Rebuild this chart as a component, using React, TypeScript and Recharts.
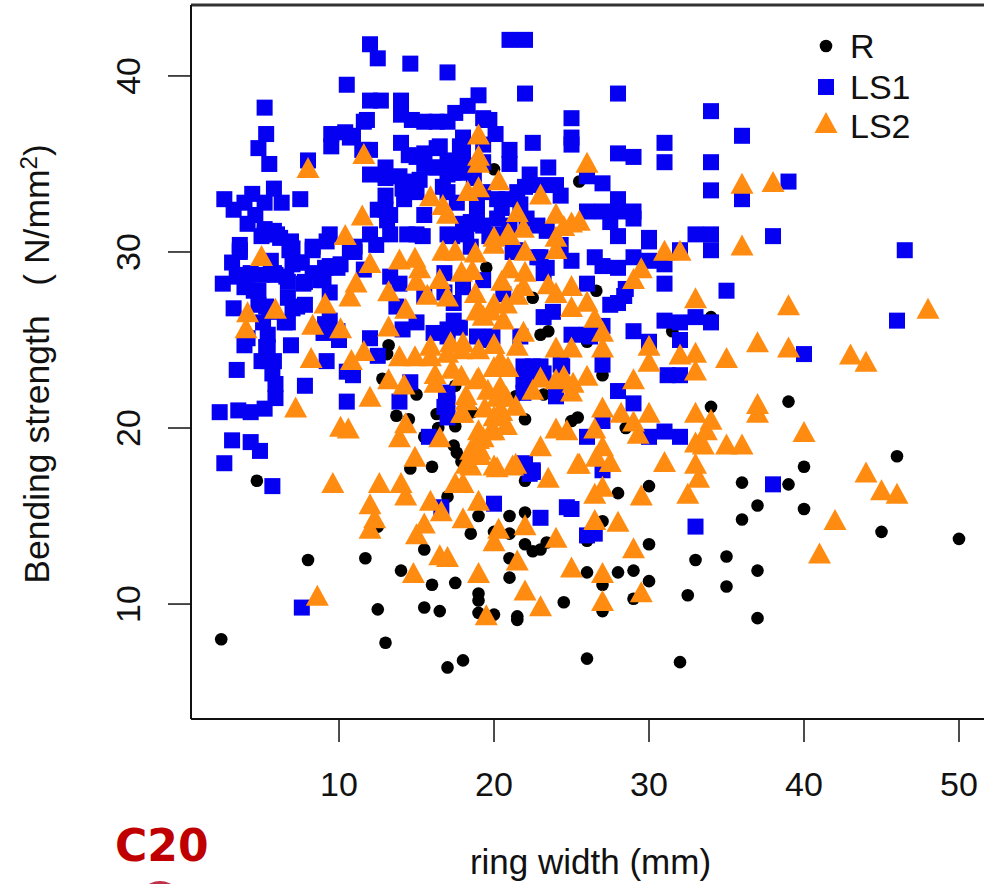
import { ScatterChart, Scatter, XAxis, YAxis, Legend, Label, ReferenceLine } from "recharts";

const xTicks = [10, 20, 30, 40, 50];
const yTicks = [10, 20, 30, 40];
const xDomain = [0.45, 52];
const yDomain = [3.47, 44.03];

const BLACK = "#000000";
const BLUE = "#0600f2";
const ORANGE = "#ff8c10";
const FONT = "Liberation Sans, Arial, sans-serif";

// [ring width, bending strength]
const rPoints = [
  [4.7, 17], [8, 12.5], [11.7, 12.6], [14, 11.9], [15.5, 13.1], [16, 11.1], [17.5, 11.2], [12.5, 9.7],
  [15.5, 9.8], [16.5, 9.6], [2.4, 8], [13, 7.8], [17, 6.4], [18, 6.8], [19, 10.6], [19, 10.2],
  [19, 9.5], [20, 9.4], [21.5, 9.3], [21.5, 9.1], [24.5, 10.1], [26, 6.9], [21, 11.5], [21, 12.6],
  [22, 13.4], [22.5, 13], [23, 13.1], [23.4, 13.5], [26, 13.6], [26, 11.8], [22, 17], [19, 15],
  [21, 15], [22, 15.2], [18.5, 14], [20, 14.1], [21, 14], [17, 16.1], [12.5, 14.4], [14.6, 17.7],
  [16, 17.8], [28, 16.3], [30, 16.7], [36, 16.9], [39, 16.8], [40, 17.8], [37, 15.6], [36, 14.8],
  [40, 15.4], [27, 14.7], [30, 13.4], [45, 14.1], [50, 13.7], [33, 12.5], [35, 12.7], [37, 11.9],
  [28, 11.8], [29, 11.9], [27, 11.1], [30, 11.3], [35, 11], [32.5, 10.5], [29, 10.3], [27, 9.6],
  [37, 9.2], [32, 6.7], [34, 21.2], [39, 21.5], [22, 20.5], [25.4, 20.6], [25, 20.4], [28.5, 20],
  [27, 23], [23, 25.3], [23.5, 25.5], [26, 24.9], [26.6, 27.8], [22.5, 27.4], [34, 26.3], [31.5, 25.5],
  [23.2, 21.9], [13.2, 24.7], [13.1, 24.2], [12.8, 22.8], [15, 21.9], [13.7, 20.7], [14.5, 20.5],
  [16.3, 20.8], [17.5, 20.1], [16.4, 20], [15.5, 19.5], [17.4, 19], [17.6, 18.6], [17.9, 18.1],
  [17.5, 22.4], [19.5, 29.1], [17.5, 25.8], [20, 34.7], [25.5, 34], [46, 18.4], [21.4, 21.8], [18.6, 20.9],
];

const ls1Points = [
  [12, 41.8], [12.5, 41], [14.6, 40.7], [17, 40.2], [10.5, 39.5], [19, 38.9], [18.3, 38.3], [12, 38.6],
  [12.7, 38.6], [14, 38.6], [14, 37.8], [17.5, 37.9], [5.2, 38.2], [5.3, 36.7], [4.8, 35.9], [5.5, 35],
  [8, 35.2], [19.4, 37.5], [11.8, 37.5], [11.6, 37.4], [14.7, 37.5], [15.5, 37.4], [16.3, 37.4], [17, 37.4],
  [9.5, 36.7], [9.5, 36], [10.4, 36.8], [10.9, 36.6], [11.5, 35.8], [12, 35.8], [14, 36.2], [14.5, 35.5],
  [15.5, 35.6], [16.5, 36], [15.5, 35], [16.1, 34.8], [17, 35.1], [18, 35.9], [18, 36.5], [13, 34.8],
  [12, 34.4], [13, 34.2], [13.9, 34.3], [14.7, 34], [13, 33.2], [13, 32.4], [14.2, 33], [15, 33.4],
  [13.1, 31.8], [15.5, 32.1], [2.6, 33], [7.5, 33], [5.8, 33.6], [4.4, 33.3], [3.9, 32.8], [3.2, 32.4],
  [6.3, 32.8], [5.2, 32.8], [4.6, 32.1], [4.1, 31.6], [5.2, 31.3], [5.8, 31.2], [5, 30.9], [6.2, 30.8],
  [6.9, 30.6], [9.4, 31], [8.3, 30.3], [3.6, 30.4], [12, 31], [13.3, 31], [14.4, 31], [15, 31],
  [17, 31], [18.2, 31], [18.5, 31.7], [18.9, 32.5], [19.3, 31.5], [17, 34.4], [17, 33.4], [18.2, 34.9],
  [18.7, 34.2], [19.3, 35.1], [19.3, 33.4], [19.3, 37.6], [19.3, 36.1], [21, 42.05], [22, 42.05], [22, 39],
  [28, 39], [34, 38], [25, 37.6], [25, 36.5], [25, 36.1], [22.5, 36.2], [21, 35.8], [21, 35],
  [20.1, 36.7], [19.7, 37.5], [36, 36.6], [31, 36.2], [31, 35.1], [34, 35.1], [28, 35.6], [29, 35.4],
  [34, 33.5], [36, 33], [39, 34], [23.5, 34.8], [22.3, 34.4], [22, 33.7], [23, 33.8], [24, 33.8],
  [24.3, 33.2], [26, 34.3], [27, 33.9], [28, 33], [26, 32.3], [27, 32.3], [28, 32.3], [29, 32.3],
  [29, 31.9], [27.5, 31.7], [28, 30.9], [30, 30.8], [33, 31], [34, 31], [38, 30.9], [20.2, 33],
  [20.8, 33], [21.5, 33.4], [20.5, 32.5], [21.7, 32.7], [20.2, 31.9], [22.1, 31.9], [22.8, 31.5], [23.4, 31.2],
  [21, 31.5], [20, 31], [24.3, 30.4], [3.1, 29.4], [2.5, 28.2], [3.6, 30.1], [8.3, 30.1], [3.2, 26.8],
  [3.9, 24.7], [6.9, 24.7], [3.4, 28.6], [4.3, 28.8], [4.5, 27.8], [5.6, 29.5], [5.8, 28.8], [6.8, 30.1],
  [6.6, 28.6], [7.5, 29.4], [7.7, 28.2], [7.3, 26.9], [6.7, 26], [8.3, 28.8], [9.4, 29.2], [9, 28.4],
  [10.1, 29.3], [5.3, 26.9], [5.1, 26], [5.3, 24.6], [5.4, 23.8], [5, 23.8], [5.8, 23.8], [5.7, 23.1],
  [5.9, 22.5], [5.9, 21.7], [5.2, 21.1], [4.3, 20.9], [3.5, 21], [2.3, 20.9], [3.4, 23.3], [7.8, 22.4],
  [10.5, 21.5], [13.9, 21.5], [9.2, 23.8], [12, 25.1], [12.5, 24.1], [10.5, 23.2], [10.9, 23], [9.1, 25.9],
  [9, 25.4], [10, 25], [3.1, 19.3], [4.3, 19.2], [4.9, 18.7], [2.6, 18], [5.7, 16.7], [17, 21.4],
  [17, 20.6], [17, 22], [15.8, 19.5], [14.6, 22.6], [13.7, 26.9], [14.1, 25.6], [15, 26], [16.1, 25.4],
  [17, 25.2], [13.3, 28.6], [11.6, 29], [10.7, 30.1], [13.9, 28.2], [15.5, 27.5], [17.4, 27.1], [18.5, 30.3],
  [12.4, 30.4], [9.2, 30.6], [18.9, 25.2], [19.3, 25], [35, 27.8], [31, 28.2], [29, 25.5], [31, 26.1],
  [32, 26], [33, 26.3], [34, 26], [32, 25], [30, 24.9], [31.2, 23], [32, 23], [27, 23.6],
  [28, 22.1], [29, 21.4], [31, 19.8], [32, 19.5], [26, 19.5], [30, 19.5], [27, 20.4], [26.5, 29.7],
  [27, 29.2], [28, 29.1], [29, 29.7], [30, 29.5], [31, 29.3], [32, 30.1], [34, 30.1], [25, 29.5],
  [26, 28.2], [28.5, 27.9], [28.4, 27.5], [27.5, 27], [28, 27.1], [25, 25.3], [26, 25.3], [27, 25.8],
  [26.2, 25.2], [23.2, 26.3], [23.8, 26.6], [22.5, 23.5], [21.9, 23.5], [23, 23.5], [24.4, 23.5], [21.9, 22.7],
  [21.9, 22], [24, 21.8], [22, 18], [22.5, 17.6], [30, 30.6], [21.4, 30.1], [23, 29.7], [46, 26.1],
  [46.5, 30.1], [38, 16.8], [40, 24.2], [33, 14.4], [7.6, 9.8], [20, 15.7], [23, 14.9], [24.7, 15.5],
  [25, 15.4], [16.6, 15.5], [22.5, 17.5], [26, 13.9], [26.5, 14], [27, 17.6],
  [19.7, 30.9], [21.2, 30], [22.8, 29.7], [23.4, 29.1], [23.2, 28.8], [19.3, 28.4], [18, 28], [16.8, 28.8],
  [17.4, 26.1], [17.8, 25.7], [17, 25.6], [16.8, 27.7], [20.6, 27.6], [21.7, 25.2], [19.9, 25.2], [18.2, 31.1],
  [22.2, 22.9], [23.2, 23.1], [16.8, 21.2], [16.9, 22], [24.3, 23.6], [22.3, 17.4], [3.6, 30], [5.2, 31],
  [6, 31], [7, 30.2], [7, 29.3], [7.6, 29.4], [4.1, 28.7], [5, 28.7], [5.9, 28.7], [6.7, 28.3],
  [7.8, 28.3], [8.8, 28.4], [9.9, 29.1], [9.1, 29.1], [11, 30], [3.9, 28], [4.8, 27.8], [4.8, 27],
  [5.5, 26.6], [6.7, 27.4], [7, 26.8], [6.5, 26], [7.8, 27], [9.4, 27.7], [5.4, 25.3], [5.4, 24.6],
  [4.1, 25.1], [9.9, 25.5], [9.4, 26.1], [14.1, 33.6], [15.2, 34.1], [15, 35.4], [16.3, 35.9], [17.2, 35.2],
  [17.4, 34.5], [16.3, 34.8], [18, 34.5], [16.7, 33.7], [17.6, 32.8], [15.4, 30.9], [11, 30.3], [10.7, 36.5],
  [18, 31.6], [18.9, 31.6], [17.8, 36], [18, 35], [17.3, 30.9], [13.3, 32.1], [12.5, 32.4],
];

const ls2Points = [
  [44, 17.3], [45, 16.3], [46, 16.1], [42, 14.6], [41, 12.7], [26.5, 16.1], [27, 16.5], [29.5, 16],
  [33.2, 17], [32.5, 16.1], [26.5, 14.6], [28, 14.5], [29, 13], [27, 11.6], [29.5, 10.5], [27, 10],
  [9.6, 16.7], [12.6, 16.7], [14, 16.7], [14.3, 16], [12, 15.5], [12.3, 14.7], [12, 14.1], [15.5, 14.4],
  [15, 13.8], [15.9, 15.7], [16.6, 15.1], [17.5, 16.7], [18, 16.7], [19, 15.7], [18, 14.7], [23.5, 17],
  [16.5, 12.6], [17, 12.5], [20.3, 14.1], [20, 13.4], [22, 14.3], [24, 13.6], [21.5, 12.3], [19, 11.6],
  [14.8, 11.6], [25, 11.9], [22, 10.6], [8.6, 10.3], [23, 9.7], [19.5, 9.2], [18.5, 17.7], [20, 17.7],
  [21.4, 17.8], [25.4, 17.8], [36, 30.2], [31, 29.9], [32, 29.9], [29.5, 28.9], [29, 28.3], [33, 27.2],
  [39, 26.8], [37, 24.7], [39, 24.4], [35, 23.8], [33, 24.1], [32, 24], [33, 23.1], [30, 24.5],
  [30, 23.6], [29, 22.6], [27, 25.3], [27, 24.4], [26.5, 26.1], [26, 27], [25, 27.9], [25, 26.7],
  [25, 24.4], [24, 24.4], [24, 27.5], [23.5, 28], [21.9, 25.3], [21.5, 24.5], [26, 22.8], [24.5, 22.8],
  [23, 22.7], [22.5, 22], [25.1, 22.4], [25, 21.9], [24, 22.6], [27, 21], [28.2, 20.7], [29, 20.2],
  [30, 20.7], [29.3, 19.5], [33, 20.7], [34, 20.3], [33.7, 19.7], [33.5, 18.9], [35, 18.9], [36, 18.9],
  [33, 19], [37, 21.2], [37, 20.7], [40, 19.6], [31, 17.9], [33, 17.8], [23, 18.8], [24, 19.8],
  [24.7, 19.7], [26.5, 19.8], [27, 18.8], [27.5, 17.9], [26.6, 18.2], [25.5, 17.8], [21.2, 17.7], [20.2, 17.6],
  [22, 29.9], [24, 30], [21, 28.9], [22, 28.7], [20.5, 28.2], [21.9, 27.9], [21.5, 27.4], [20.8, 26.9],
  [20.6, 26], [20, 26.9], [20, 24.6], [20.4, 23.7], [20.9, 23.3], [20, 23.3], [20.4, 22.2], [20.2, 21.6],
  [20.8, 21.6], [21.4, 21.1], [20.8, 20], [20, 19.7], [20.5, 20.8], [20, 20.5], [5, 29.6], [4.1, 26.4],
  [5.9, 26.6], [4, 25.5], [7.2, 21], [10.1, 19.9], [10.6, 19.8], [8.2, 23.8], [8.3, 25.7], [9.1, 26.9],
  [10.1, 25.5], [10.7, 27.3], [11.1, 28.1], [12, 29.2], [13.9, 29.4], [14.9, 29.5], [13.2, 27.6], [14.3, 26.6],
  [13.2, 25.6], [10.8, 23.7], [11.6, 24.2], [13.9, 23.9], [14.9, 23.9], [15.9, 23.9], [17, 24.1], [17.9, 24.3],
  [19, 24.3], [15.9, 24.5], [13.2, 22.6], [14.2, 22.3], [16.2, 22.4], [16.2, 22.9], [17.3, 23.2], [17.9, 22.8],
  [18.9, 22.6], [12, 21.6], [14.3, 20.1], [13.9, 19.3], [16.5, 19.3], [14.9, 18.2], [18.2, 21.4], [17.9, 20.7],
  [19, 19.7], [18.5, 18.6], [18.2, 17.8], [19.3, 19.3], [19.1, 18.6], [16.7, 29.9], [17.5, 29.9], [18.8, 29.8],
  [15.2, 28.9], [15, 28.2], [16.5, 28.3], [17.9, 28.7], [15.7, 27.4], [17, 27.3], [18.8, 27.5], [18.9, 26.5],
  [19.3, 26.2], [8, 34.6], [11.6, 35.4], [11.5, 31.9], [10.4, 30.8], [15.9, 33], [16.7, 32.5], [17, 32],
  [18.3, 33.3], [19, 33.5], [19, 36.5], [19, 35.3], [19, 34.9], [26, 34.9], [20.3, 33.9], [23, 33.1],
  [21.5, 32.1], [24, 32], [21.9, 31.2], [24.5, 31.3], [25, 31.5], [25.5, 31.6], [36, 33.7], [38, 33.8],
  [20.9, 30.9], [20, 30.7], [24, 30.7], [48, 26.6], [43, 24], [44, 23.6],
  [20, 30.3], [21, 30.8], [19, 26.6], [19.8, 26.5], [18.6, 28.8], [18, 24.7], [17.2, 24.7], [19, 22.7],
  [18.2, 21.7], [18, 20.7], [20.3, 20.7], [19.8, 19.7], [19, 19.2], [19.1, 18.3], [19.4, 21], [19.6, 22],
];

const toRows = (points: number[][]) => points.map(([x, y]) => ({ x, y }));

const RDot = ({ cx, cy }: any) => <circle cx={cx} cy={cy} r={6.3} fill={BLACK} />;
const Ls1Square = ({ cx, cy }: any) => <rect x={cx - 8} y={cy - 8} width={16} height={16} fill={BLUE} />;
const Ls2Triangle = ({ cx, cy }: any) => (
  <path d={`M${cx} ${cy - 14}L${cx + 11.5} ${cy + 7}L${cx - 11.5} ${cy + 7}Z`} fill={ORANGE} />
);

const legendGlyphs: Record<string, any> = { R: RDot, LS1: Ls1Square, LS2: Ls2Triangle };
const legendRows: Record<string, number> = { R: 26, LS1: 67, LS2: 106 };

const ChartLegend = ({ payload }: any) => (
  <svg width={120} height={140} style={{ display: "block" }}>
    {(payload || []).map((entry: any) => {
      const Glyph = legendGlyphs[entry.value];
      const cy = legendRows[entry.value];
      return (
        <g key={entry.value}>
          <Glyph cx={16} cy={cy} />
          <text x={40} y={cy + 12} fontFamily={FONT} fontSize={34} fill="#111">
            {entry.value}
          </text>
        </g>
      );
    })}
  </svg>
);

const YTick = ({ x, y, payload }: any) => (
  <text
    transform={`rotate(-90 ${x} ${y})`}
    x={x}
    y={y}
    textAnchor="middle"
    fontFamily={FONT}
    fontSize={34}
    fill="#111"
  >
    {payload.value}
  </text>
);

const YTitle = () => (
  <text transform="rotate(-90 49 364)" x={49} y={364} textAnchor="middle" fontFamily={FONT} fontSize={35.5} fill="#111">
    Bending strength{"\u00a0\u00a0\u00a0"}( N/mm
    <tspan dy={-12} fontSize={24}>2</tspan>
    <tspan dy={12}>)</tspan>
  </text>
);

export default function App() {
  return (
    <div style={{ position: "fixed", left: 0, top: 0, width: 984, height: 884, overflow: "hidden", background: "#fff" }}>
      <ScatterChart width={1000} height={884} margin={{ top: 5, right: 10, left: 0, bottom: 0 }}>
        <XAxis
          type="number"
          dataKey="x"
          domain={xDomain}
          ticks={xTicks}
          height={165}
          tickSize={23}
          tickMargin={30}
          interval={0}
          allowDataOverflow
          axisLine={{ stroke: "#111", strokeWidth: 2 }}
          tickLine={{ stroke: "#111", strokeWidth: 1.5 }}
          tick={{ fill: "#111", fontFamily: FONT, fontSize: 34 }}
        >
          <Label
            value="ring width (mm)"
            position="insideBottom"
            offset={10}
            fill="#111"
            fontFamily={FONT}
            fontSize={35}
          />
        </XAxis>
        <YAxis
          type="number"
          dataKey="y"
          domain={yDomain}
          ticks={yTicks}
          width={191}
          tickSize={23}
          tickMargin={28}
          interval={0}
          allowDataOverflow
          axisLine={{ stroke: "#111", strokeWidth: 2 }}
          tickLine={{ stroke: "#111", strokeWidth: 1.5 }}
          tick={<YTick />}
        >
          <Label content={<YTitle />} />
        </YAxis>
        <ReferenceLine y={yDomain[1]} stroke="#333" strokeWidth={3} ifOverflow="visible" />
        <Legend
          content={<ChartLegend />}
          layout="vertical"
          align="center"
          verticalAlign="middle"
          itemSorter={null}
          wrapperStyle={{ left: 810, top: 20, width: 120 }}
        />
        <Scatter name="R" data={toRows(rPoints)} fill={BLACK} shape={<RDot />} isAnimationActive={false} />
        <Scatter name="LS1" data={toRows(ls1Points)} fill={BLUE} shape={<Ls1Square />} isAnimationActive={false} />
        <Scatter name="LS2" data={toRows(ls2Points)} fill={ORANGE} shape={<Ls2Triangle />} isAnimationActive={false} />
      </ScatterChart>
      <div
        style={{
          position: "absolute",
          left: 115,
          top: 818,
          fontFamily: "DejaVu Sans, sans-serif",
          fontWeight: 700,
          fontSize: 44,
          lineHeight: "56px",
          color: "#c00000",
        }}
      >
        C20
      </div>
      <div
        style={{
          position: "absolute",
          left: 135,
          top: 881,
          width: 50,
          height: 60,
          borderRadius: "50%",
          background: "#c0304a",
        }}
      />
    </div>
  );
}
